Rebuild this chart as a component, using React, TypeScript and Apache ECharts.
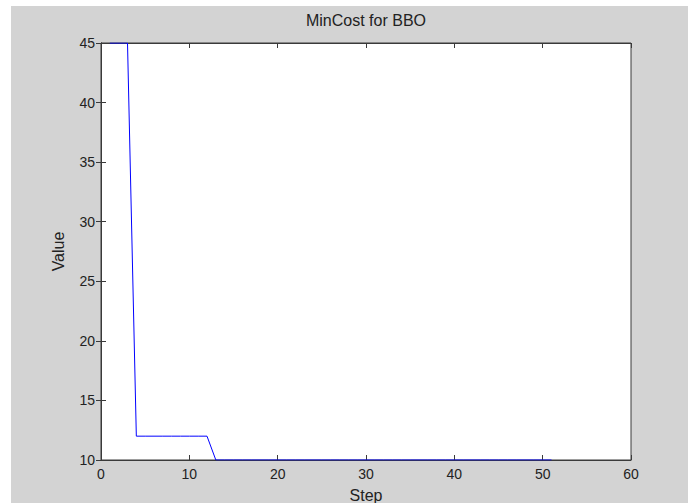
import React, { useEffect, useRef } from "react";
import * as echarts from "echarts";

const steps: number[] = [
  1, 2, 3, 4, 5, 6, 7, 8, 9, 10, 11, 12, 13, 14, 15, 16, 17, 18, 19, 20,
  21, 22, 23, 24, 25, 26, 27, 28, 29, 30, 31, 32, 33, 34, 35, 36, 37, 38, 39, 40,
  41, 42, 43, 44, 45, 46, 47, 48, 49, 50, 51,
];
const minCost: number[] = [
  45, 45, 45, 12, 12, 12, 12, 12, 12, 12, 12, 12, 10, 10, 10, 10, 10, 10, 10, 10,
  10, 10, 10, 10, 10, 10, 10, 10, 10, 10, 10, 10, 10, 10, 10, 10, 10, 10, 10, 10,
  10, 10, 10, 10, 10, 10, 10, 10, 10, 10, 10,
];
const titleText = "MinCost for BBO";
const xName = "Step";
const yName = "Value";

const FONT = "'Liberation Sans', Arial, sans-serif";
const TEXT = "#222222";
const AXIS = "#3a3a3a";

export default function App() {
  const ref = useRef<HTMLDivElement>(null);
  useEffect(() => {
    document.body.style.margin = "0";
    const chart = echarts.init(ref.current!, null, { renderer: "svg" });
    const tickStyle = { show: true, inside: true, length: 5, lineStyle: { color: AXIS, width: 1 } };
    const lineStyle = { color: AXIS, width: 1 };
    chart.setOption({
      animation: false,
      backgroundColor: "#d3d3d3",
      textStyle: { fontFamily: FONT },
      title: {
        text: titleText,
        left: 355,
        top: 6,
        padding: 0,
        textAlign: "center",
        textStyle: { fontSize: 16, fontWeight: "normal", color: TEXT, fontFamily: FONT },
      },
      grid: {
        left: 90,
        top: 37,
        right: 57,
        bottom: 43,
        outerBoundsMode: "none",
        containLabel: false,
        show: true,
        backgroundColor: "#ffffff",
        borderColor: AXIS,
        borderWidth: 1,
      },
      xAxis: [
        {
          type: "value",
          min: 0,
          max: 60,
          interval: 10,
          name: xName,
          nameLocation: "middle",
          nameGap: 27,
          nameTextStyle: { fontSize: 16, color: TEXT, fontFamily: FONT },
          axisLine: { show: true, lineStyle },
          axisTick: tickStyle,
          axisLabel: { fontSize: 14, color: TEXT, margin: 7, fontFamily: FONT },
          splitLine: { show: false },
        },
        {
          type: "value",
          position: "top",
          min: 0,
          max: 60,
          interval: 10,
          axisLine: { show: true, lineStyle },
          axisTick: tickStyle,
          axisLabel: { show: false },
          splitLine: { show: false },
        },
      ],
      yAxis: [
        {
          type: "value",
          min: 10,
          max: 45,
          interval: 5,
          name: yName,
          nameLocation: "middle",
          nameGap: 35,
          nameTextStyle: { fontSize: 16, color: TEXT, fontFamily: FONT },
          axisLine: { show: true, lineStyle },
          axisTick: tickStyle,
          axisLabel: { fontSize: 14, color: TEXT, margin: 6, fontFamily: FONT },
          splitLine: { show: false },
        },
        {
          type: "value",
          position: "right",
          min: 10,
          max: 45,
          interval: 5,
          axisLine: { show: true, lineStyle },
          axisTick: tickStyle,
          axisLabel: { show: false },
          splitLine: { show: false },
        },
      ],
      series: [
        {
          type: "line",
          data: steps.map((s, i) => [s, minCost[i]]),
          showSymbol: false,
          symbol: "none",
          clip: true,
          lineStyle: { color: "#0000ff", width: 1 },
          itemStyle: { color: "#0000ff" },
        },
      ],
    });
    return () => chart.dispose();
  }, []);
  return (
    <div style={{ position: "absolute", left: 0, top: 0, width: 688, height: 503, background: "#ffffff" }}>
      <div ref={ref} style={{ position: "absolute", left: 11, top: 6, width: 677, height: 497 }} />
    </div>
  );
}
